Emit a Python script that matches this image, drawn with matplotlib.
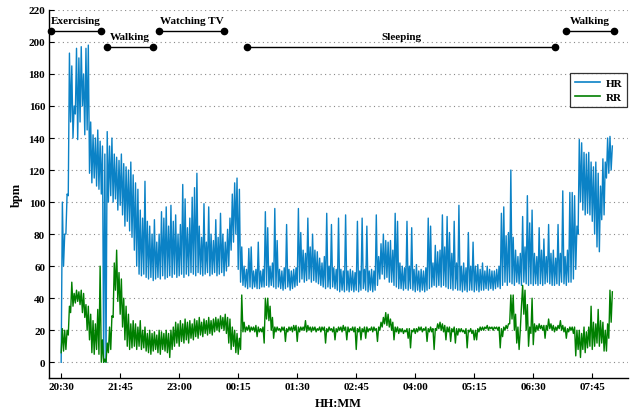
import numpy as np
import matplotlib.pyplot as plt

plt.rcParams['font.family'] = ['Liberation Serif', 'DejaVu Serif']
plt.rcParams['font.weight'] = 'bold'

# --- data: lowest / highest value in each 3-min bin from 20:30 ---
START = "20:30"
STEP_MIN = 3

hr_low = [0, 60, 80, 104, 150, 140, 155, 139, 150, 160, 142, 145, 118, 112, 115, 110, 108, 105, 0, 0,
          100, 104, 100, 102, 95, 98, 92, 85, 88, 82, 78, 70, 60, 55, 54, 55, 53, 52, 53, 51,
          52, 53, 52, 54, 52, 53, 54, 53, 55, 53, 54, 55, 53, 55, 54, 56, 55, 54, 56, 55,
          54, 55, 56, 54, 55, 56, 54, 55, 56, 54, 57, 60, 70, 75, 80, 58, 50, 48, 47, 46,
          47, 46, 47, 46, 46, 47, 47, 48, 47, 48, 47, 46, 47, 46, 45, 46, 47, 45, 46, 47,
          48, 50, 52, 50, 51, 52, 50, 51, 50, 49, 48, 47, 46, 47, 46, 47, 46, 45, 44, 45,
          44, 45, 44, 45, 44, 45, 44, 45, 46, 45, 44, 45, 44, 45, 48, 52, 55, 52, 53, 50,
          50, 48, 47, 46, 46, 45, 46, 45, 46, 45, 44, 45, 44, 45, 44, 45, 46, 47, 48, 47,
          48, 47, 48, 47, 46, 46, 45, 46, 45, 45, 44, 45, 44, 45, 45, 44, 45, 44, 45, 45,
          46, 45, 46, 45, 46, 47, 46, 48, 50, 48, 50, 49, 48, 50, 49, 48, 50, 49, 48, 49,
          48, 49, 48, 49, 48, 49, 50, 49, 48, 48, 49, 48, 50, 49, 48, 50, 50, 52, 58, 80,
          100, 95, 92, 93, 92, 88, 80, 72, 69, 89, 92, 115, 118, 120]
hr_high = [100, 80, 105, 193, 185, 160, 196, 190, 197, 180, 196, 198, 150, 142, 140, 145, 138, 135, 130, 144,
           135, 140, 130, 128, 126, 130, 124, 122, 120, 125, 117, 112, 108, 95, 90, 113, 88, 85, 80, 89,
           75, 80, 94, 90, 97, 85, 98, 88, 92, 80, 86, 111, 102, 84, 90, 103, 109, 118, 85, 78,
           99, 75, 97, 80, 76, 89, 78, 93, 80, 75, 83, 90, 105, 112, 115, 108, 72, 60, 58, 71,
           72, 57, 58, 75, 57, 58, 94, 84, 60, 62, 96, 76, 58, 57, 59, 86, 58, 57, 58, 59,
           96, 81, 70, 68, 90, 72, 80, 70, 69, 65, 62, 66, 93, 60, 86, 59, 58, 90, 58, 57,
           92, 57, 58, 57, 56, 88, 57, 90, 58, 85, 57, 58, 57, 92, 66, 74, 80, 76, 75, 76,
           70, 93, 88, 62, 60, 59, 88, 60, 84, 58, 61, 57, 58, 57, 59, 90, 85, 62, 73, 69,
           70, 92, 72, 91, 81, 68, 88, 62, 98, 60, 62, 59, 81, 60, 75, 60, 61, 58, 62, 57,
           60, 58, 57, 57, 58, 60, 93, 97, 79, 81, 120, 78, 70, 66, 68, 91, 72, 104, 87, 95,
           68, 66, 84, 70, 77, 66, 86, 68, 70, 65, 86, 68, 107, 66, 70, 106, 106, 104, 85, 139,
           137, 131, 130, 131, 125, 122, 125, 118, 110, 127, 125, 140, 141, 135]

rr_low = [6, 7, 8, 17, 31, 35, 37, 38, 36, 31, 28, 20, 14, 6, 5, 8, 5, 0, 0, 0,
          6, 8, 28, 45, 38, 30, 22, 14, 10, 8, 9, 10, 8, 10, 8, 9, 7, 6, 5, 7,
          8, 6, 5, 8, 7, 6, 3, 8, 10, 12, 10, 13, 12, 14, 12, 15, 14, 16, 15, 17,
          16, 18, 17, 18, 17, 19, 20, 19, 21, 20, 18, 12, 8, 10, 6, 5, 8, 19, 19, 20,
          19, 20, 19, 16, 19, 19, 12, 27, 26, 20, 15, 19, 20, 19, 20, 13, 19, 20, 19, 20,
          13, 19, 20, 20, 19, 20, 19, 20, 19, 20, 19, 20, 12, 19, 20, 19, 14, 19, 20, 19,
          20, 14, 19, 20, 19, 8, 19, 14, 19, 15, 19, 20, 19, 20, 13, 20, 22, 24, 23, 22,
          20, 14, 19, 18, 19, 18, 19, 15, 9, 19, 18, 19, 20, 19, 20, 13, 19, 19, 8, 20,
          21, 20, 19, 14, 19, 13, 19, 12, 17, 19, 19, 18, 9, 19, 18, 14, 14, 19, 20, 20,
          21, 20, 21, 20, 21, 20, 9, 16, 20, 21, 24, 27, 20, 12, 8, 35, 30, 20, 10, 18,
          11, 19, 20, 21, 20, 15, 20, 21, 20, 19, 20, 21, 20, 19, 15, 19, 20, 18, 4, 8,
          3, 8, 6, 9, 10, 8, 10, 12, 10, 12, 7, 7, 15, 25]
rr_high = [21, 20, 20, 35, 50, 43, 45, 44, 45, 43, 36, 35, 30, 26, 24, 33, 60, 14, 2, 12,
           22, 29, 62, 70, 56, 52, 40, 35, 30, 24, 26, 24, 22, 26, 20, 22, 18, 20, 18, 19,
           17, 20, 19, 18, 20, 18, 20, 22, 25, 24, 26, 24, 27, 25, 26, 24, 27, 26, 28, 25,
           27, 26, 28, 26, 27, 28, 27, 29, 28, 30, 28, 27, 22, 20, 18, 15, 42, 25, 22, 23,
           22, 22, 23, 22, 21, 22, 40, 40, 35, 28, 22, 22, 21, 22, 22, 21, 22, 22, 23, 23,
           22, 22, 22, 26, 23, 22, 22, 22, 21, 22, 22, 22, 21, 22, 21, 22, 21, 22, 22, 23,
           22, 22, 21, 22, 22, 21, 22, 21, 22, 22, 21, 22, 22, 21, 22, 25, 28, 31, 30, 27,
           25, 22, 22, 21, 21, 20, 21, 21, 20, 21, 21, 22, 22, 21, 22, 21, 22, 21, 21, 24,
           25, 24, 23, 22, 22, 21, 22, 21, 21, 21, 20, 21, 20, 21, 20, 20, 21, 22, 22, 22,
           23, 22, 22, 22, 22, 22, 21, 22, 23, 24, 42, 42, 30, 22, 20, 48, 45, 36, 22, 40,
           24, 23, 24, 23, 23, 23, 27, 24, 23, 22, 23, 26, 23, 22, 21, 22, 22, 22, 20, 20,
           18, 22, 19, 22, 35, 25, 24, 33, 26, 25, 20, 24, 45, 44]

tick_labels = ["20:30", "21:45", "23:00", "00:15", "01:30", "02:45", "04:00", "05:15", "06:30", "07:45"]

activities = ["Exercising", "Walking", "Watching TV", "Sleeping", "Walking"]
act_start = ["20:17", "21:28", "22:34", "00:26", "07:11"]
act_end = ["21:21", "22:27", "23:57", "06:58", "08:12"]


def minutes(hhmm):
    # minutes after START, wrapping past midnight
    h, m = map(int, hhmm.split(":"))
    h0, m0 = map(int, START.split(":"))
    t = h * 60 + m - (h0 * 60 + m0)
    if t < -60:
        t += 1440
    return t


def trace(low, high):
    # dense signal drawn as low/high per bin (low at bin start, high mid-bin)
    t = np.arange(len(low)) * STEP_MIN
    x = np.column_stack([t, t + STEP_MIN / 2]).ravel()
    y = np.column_stack([low, high]).ravel()
    return x, y


fig = plt.figure(figsize=(6.33, 4.14), dpi=100)
ax = fig.add_axes([0.078, 0.0838, 0.9136, 0.890])

ax.plot(*trace(hr_low, hr_high), color='#0b82c6', lw=1.0, label='HR')
ax.plot(*trace(rr_low, rr_high), color='#007f00', lw=1.0, label='RR')

# activity bars: alternate between two levels
for i, name in enumerate(activities):
    a, b = minutes(act_start[i]), minutes(act_end[i])
    lvl = 207 if i % 2 == 0 else 197
    ax.plot([a, b], [lvl, lvl], color='k', lw=1.0, marker='o', ms=4.5, clip_on=False)
    ax.text((a + b) / 2, lvl + 6.5, name, ha='center', va='center', fontsize=8, fontweight='bold')

ax.set_xlim(-15, 720)
ax.set_ylim(-10, 220)
ax.set_xticks([minutes(s) for s in tick_labels])
ax.set_xticklabels(tick_labels)
ax.set_yticks(np.arange(0, 221, 20))

ax.yaxis.grid(True, linestyle=(0, (1, 3)), color='#8a8a8a', lw=0.8)
ax.set_axisbelow(True)
for s in ('top', 'right'):
    ax.spines[s].set_visible(False)
for s in ('left', 'bottom'):
    ax.spines[s].set_linewidth(1.0)
ax.tick_params(direction='in', length=3.5, width=0.8, labelsize=8, pad=3)

ax.set_ylabel('bpm', fontsize=9, fontweight='bold', labelpad=4)
ax.set_xlabel('HH:MM', fontsize=9, fontweight='bold', labelpad=4)

leg = ax.legend(loc='upper right', bbox_to_anchor=(0.999, 0.829), borderaxespad=0,
                fancybox=False, edgecolor='k', fontsize=8, handlelength=2.2,
                handletextpad=0.5, borderpad=0.45, labelspacing=0.4)
leg.get_frame().set_linewidth(0.9)
for line in leg.get_lines():
    line.set_linewidth(1.2)

fig.savefig('out.png', dpi=100)
